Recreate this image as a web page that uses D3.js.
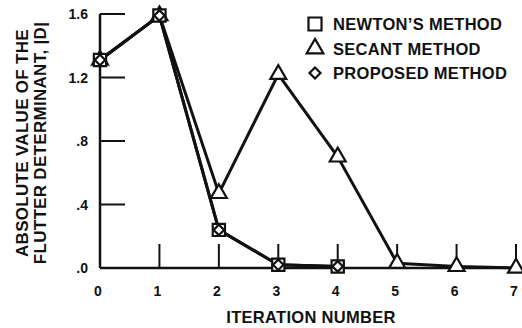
<!DOCTYPE html>
<html>
<head>
<meta charset="utf-8">
<script src="https://cdn.jsdelivr.net/npm/d3@7"></script>
<style>
  body { margin: 0; background: #fff; }
  text { font-family: "Liberation Sans", Arial, sans-serif; font-weight: bold; fill: #111; }
</style>
</head>
<body>
<script>
// data
var iterations = [0, 1, 2, 3, 4, 5, 6, 7]
var yTicks = [0, 0.4, 0.8, 1.2, 1.6]
var yTickLabels = ['.0', '.4', '.8', '1.2', '1.6']
var newton = [1.31, 1.59, 0.24, 0.02, 0.01]
var secant = [1.31, 1.59, 0.47, 1.22, 0.70, 0.03, 0.01, 0.0]
var proposed = [1.31, 1.59, 0.24, 0.02, 0.01]
var legendNames = ["NEWTON\u2019S METHOD", 'SECANT METHOD', 'PROPOSED METHOD']

var W = 522, H = 328
var svg = d3.select('body').append('svg')
  .attr('width', W)
  .attr('height', H)

var x = d3.scaleLinear().domain([0, 7]).range([100, 516])
var y = d3.scaleLinear().domain([0, 1.6]).range([268, 14])

var ink = '#111'

// axes
svg.append('line')
  .attr('x1', x(0)).attr('x2', x(0))
  .attr('y1', y(1.6)).attr('y2', y(0))
  .style('stroke', ink).style('stroke-width', 2.5)
svg.append('line')
  .attr('x1', x(0)).attr('x2', x(7) + 2)
  .attr('y1', y(0)).attr('y2', y(0))
  .style('stroke', ink).style('stroke-width', 2.5)

// y ticks point inward
svg.selectAll('.ytick')
  .data(yTicks.slice(1))
  .enter().append('line')
  .attr('x1', x(0)).attr('x2', x(0) + 25)
  .attr('y1', function(d) { return y(d) }).attr('y2', function(d) { return y(d) })
  .style('stroke', ink).style('stroke-width', 2)

svg.selectAll('.ylab')
  .data(yTicks)
  .enter().append('text')
  .attr('x', 88)
  .attr('y', function(d) { return y(d) + 5 })
  .attr('text-anchor', 'end')
  .style('font-size', '14px')
  .text(function(d, i) { return yTickLabels[i] })

// x ticks point up
svg.selectAll('.xtick')
  .data(iterations.slice(1))
  .enter().append('line')
  .attr('x1', function(d) { return x(d) }).attr('x2', function(d) { return x(d) })
  .attr('y1', y(0)).attr('y2', y(0) - 24)
  .style('stroke', ink).style('stroke-width', 2)

svg.selectAll('.xlab')
  .data(iterations)
  .enter().append('text')
  .attr('x', function(d) { return x(d) - 2 })
  .attr('y', 296)
  .attr('text-anchor', 'middle')
  .style('font-size', '14px')
  .text(function(d) { return d })

// axis titles
svg.append('text')
  .attr('x', 311).attr('y', 323)
  .attr('text-anchor', 'middle')
  .style('font-size', '16.5px')
  .style('letter-spacing', '0.3px')
  .text('ITERATION NUMBER')

var yTitle = svg.append('g')
  .attr('transform', 'translate(0, 143) rotate(-90)')
yTitle.append('text')
  .attr('x', 0).attr('y', 28)
  .attr('text-anchor', 'middle')
  .style('font-size', '17px')
  .style('letter-spacing', '0.3px')
  .text('ABSOLUTE VALUE OF THE')
yTitle.append('text')
  .attr('x', 0).attr('y', 46)
  .attr('text-anchor', 'middle')
  .style('font-size', '17px')
  .style('letter-spacing', '0.3px')
  .text('FLUTTER DETERMINANT, |D|')

// series
var line = d3.line()
  .x(function(d, i) { return x(iterations[i]) })
  .y(function(d) { return y(d) })

// diamond = square turned 45 degrees
var series = [
  { values: secant, symbol: d3.symbolTriangle, size: 110, rot: 0 },
  { values: newton, symbol: d3.symbolSquare, size: 150, rot: 0 },
  { values: proposed, symbol: d3.symbolSquare, size: 55, rot: 45 }
]

series.forEach(function(s) {
  svg.append('path')
    .datum(s.values)
    .attr('d', line)
    .style('fill', 'none')
    .style('stroke', ink)
    .style('stroke-width', 3)
    .style('stroke-linejoin', 'round')
})

series.forEach(function(s) {
  svg.selectAll(null)
    .data(s.values)
    .enter().append('path')
    .attr('d', d3.symbol().type(s.symbol).size(s.size))
    .attr('transform', function(d, i) { return `translate(${x(iterations[i])}, ${y(d)}) rotate(${s.rot})` })
    .style('fill', '#fff')
    .style('stroke', ink)
    .style('stroke-width', 2.2)
})

// legend
var legend = svg.selectAll('.legend')
  .data(legendNames)
  .enter().append('g')
  .attr('transform', function(d, i) { return `translate(315, ${24 + i * 24.5})` })

legend.append('path')
  .attr('d', function(d, i) {
    var types = [d3.symbolSquare, d3.symbolTriangle, d3.symbolSquare]
    var sizes = [170, 120, 60]
    return d3.symbol().type(types[i]).size(sizes[i])()
  })
  .attr('transform', function(d, i) { return i == 2 ? 'rotate(45)' : null })
  .style('fill', '#fff')
  .style('stroke', ink)
  .style('stroke-width', 2.2)

legend.append('text')
  .attr('x', 18).attr('y', 6)
  .style('font-size', '16.5px')
  .style('letter-spacing', '0.3px')
  .text(function(d) { return d })
</script>
</body>
</html>
